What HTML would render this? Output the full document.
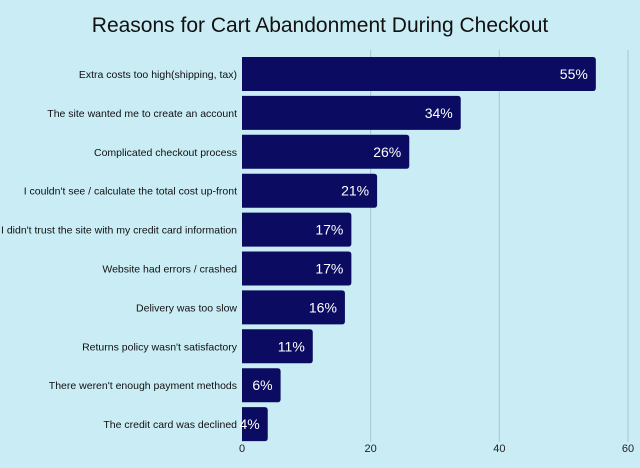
<!DOCTYPE html>
<html><head><meta charset="utf-8"><style>
body{margin:0;background:#c9ecf5;}
svg{display:block;font-family:"Liberation Sans",sans-serif;}
</style></head><body>
<svg id="chart" width="640" height="468">
<rect width="640" height="468" fill="#c9ecf5"/>
<text x="320" y="32" text-anchor="middle" font-size="21" fill="#111">Reasons for Cart Abandonment During Checkout</text>
<g id="grid"></g><g id="bars"></g><g id="labels"></g><g id="ticks"></g>
</svg>
<script>
const categories=["Extra costs too high(shipping, tax)","The site wanted me to create an account","Complicated checkout process","I couldn't see / calculate the total cost up-front","I didn't trust the site with my credit card information","Website had errors / crashed","Delivery was too slow","Returns policy wasn't satisfactory","There weren't enough payment methods","The credit card was declined"];
const values=[55,34,26,21,17,17,16,11,6,4];
const tickValues=[0,20,40,60];
const NS="http://www.w3.org/2000/svg";
const x0=242,x1=628,xmax=60,yTop=57,step=38.9,bh=34;
const xs=v=>x0+(x1-x0)*v/xmax;
const ys=i=>yTop+i*step;
function mk(t,a,p){const e=document.createElementNS(NS,t);for(const k in a)e.setAttribute(k,a[k]);p.appendChild(e);return e;}
const grid=document.getElementById('grid'),bars=document.getElementById('bars'),labels=document.getElementById('labels'),ticks=document.getElementById('ticks');
tickValues.forEach(v=>{
 if(v>0){const l=mk('line',{x1:xs(v),x2:xs(v),y1:50,y2:442,stroke:'#a9c6cf','stroke-width':1},grid);
 
 }
 const t=mk('text',{x:xs(v),y:452,'text-anchor':'middle','font-size':11,fill:'#222'},ticks);
 t.textContent=v;
 
 
});
values.forEach((v,i)=>{
 const y=ys(i),w=xs(v)-x0,r=3;
 const p=mk('path',{d:`M${x0},${y}H${x0+w-r}Q${x0+w},${y} ${x0+w},${y+r}V${y+bh-r}Q${x0+w},${y+bh} ${x0+w-r},${y+bh}H${x0}Z`,fill:'#0b0b62'},bars);
 
 
 const vt=mk('text',{x:x0+w-8,y:y+bh/2+5,'text-anchor':'end','font-size':14,fill:'#fff'},bars);
 vt.textContent=v+'%';
 
 
 const ct=mk('text',{x:237,y:y+bh/2+4,'text-anchor':'end','font-size':10.5,fill:'#111'},labels);
 ct.textContent=categories[i];
 
 
});
</script>
</body></html>
